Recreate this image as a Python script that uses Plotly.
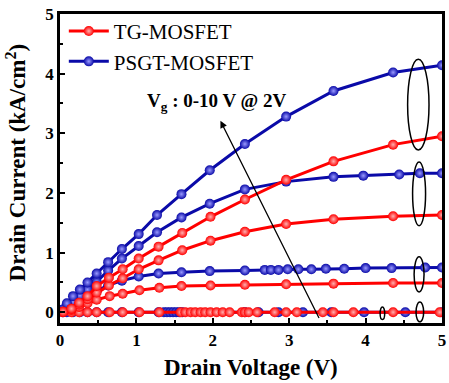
import plotly.graph_objects as go

# ---------------- data ----------------
tg_x_10 = [0.04, 0.15, 0.25, 0.36, 0.48, 0.64, 0.82, 1.03, 1.29, 1.60, 1.97, 2.42, 2.96, 3.58, 4.36, 5.0]
tg_y_10 = [0.01, 0.06, 0.16, 0.27, 0.44, 0.58, 0.72, 0.90, 1.10, 1.33, 1.60, 1.89, 2.22, 2.53, 2.81, 2.95]
tg_x_8 = [0.04, 0.15, 0.25, 0.36, 0.48, 0.64, 0.82, 1.03, 1.29, 1.60, 1.97, 2.42, 2.96, 3.58, 4.36, 5.0]
tg_y_8 = [0.01, 0.06, 0.13, 0.22, 0.33, 0.45, 0.57, 0.72, 0.87, 1.04, 1.20, 1.35, 1.48, 1.56, 1.61, 1.63]
tg_x_6 = [0.04, 0.15, 0.25, 0.36, 0.48, 0.65, 0.82, 1.04, 1.30, 1.59, 1.97, 2.42, 2.96, 3.58, 4.36, 5.0]
tg_y_6 = [0.01, 0.04, 0.09, 0.15, 0.21, 0.27, 0.31, 0.37, 0.41, 0.44, 0.45, 0.46, 0.47, 0.48, 0.49, 0.49]
tg_x_0 = [0.04, 0.15, 0.25, 0.36, 0.48, 0.65, 0.82, 1.04, 1.30, 1.58, 1.64, 1.71, 1.77, 1.84, 1.90,
          1.97, 2.05, 2.13, 2.22, 2.38, 2.42, 2.47, 2.58, 2.81, 2.96, 3.10, 3.44, 3.58, 3.84, 4.36, 4.97]
tg_y_0 = [0.0] * len(tg_x_0)

psgt_x_10 = [0.04, 0.09, 0.17, 0.26, 0.36, 0.48, 0.63, 0.81, 1.03, 1.27, 1.59, 1.96, 2.42, 2.96, 3.58, 4.36, 5.0]
psgt_y_10 = [0.05, 0.15, 0.27, 0.38, 0.50, 0.65, 0.84, 1.06, 1.31, 1.63, 1.98, 2.38, 2.82, 3.28, 3.71, 4.02, 4.14]
psgt_x_8 = [0.04, 0.09, 0.17, 0.26, 0.36, 0.48, 0.63, 0.81, 1.03, 1.27, 1.59, 1.96, 2.42, 2.96, 3.58, 3.97, 4.44, 4.71, 5.0]
psgt_y_8 = [0.03, 0.09, 0.18, 0.28, 0.38, 0.51, 0.70, 0.90, 1.11, 1.34, 1.59, 1.82, 2.06, 2.19, 2.27, 2.29, 2.31, 2.33, 2.33]
psgt_x_6 = [0.04, 0.09, 0.17, 0.26, 0.36, 0.48, 0.63, 0.81, 1.03, 1.29, 1.59, 1.96, 2.42, 2.68, 2.76, 2.86,
            2.98, 3.12, 3.29, 3.48, 3.72, 4.0, 4.34, 4.78, 5.0]
psgt_y_6 = [0.02, 0.07, 0.14, 0.21, 0.28, 0.36, 0.45, 0.53, 0.60, 0.65, 0.67, 0.69, 0.70, 0.71, 0.71, 0.71,
            0.72, 0.72, 0.72, 0.73, 0.73, 0.74, 0.74, 0.75, 0.75]
psgt_x_0 = [0.04, 0.09, 0.17, 0.26, 0.36, 0.48, 0.63, 0.81, 1.03, 1.29, 1.36, 1.40, 1.44, 1.48, 1.52, 1.56,
            1.60, 2.42, 2.60, 2.86, 3.18, 3.55, 3.98, 4.52, 5.0]
psgt_y_0 = [0.0] * len(psgt_x_0)

tg_curves = [(tg_x_0, tg_y_0), (tg_x_6, tg_y_6), (tg_x_8, tg_y_8), (tg_x_10, tg_y_10)]
psgt_curves = [(psgt_x_0, psgt_y_0), (psgt_x_6, psgt_y_6), (psgt_x_8, psgt_y_8), (psgt_x_10, psgt_y_10)]

series_names = ["TG-MOSFET", "PSGT-MOSFET"]
x_ticks = [0, 1, 2, 3, 4, 5]
y_ticks = [0, 1, 2, 3, 4, 5]

# ellipses (x0, x1, y0, y1) in data units
ellipses = [
    (4.55, 4.83, 2.72, 4.24),
    (4.615, 4.785, 1.45, 2.52),
    (4.635, 4.765, 0.34, 0.93),
    (4.66, 4.76, -0.16, 0.17),
    (4.19, 4.25, -0.12, 0.09),
]
arrow_tail = (3.40, -0.12)
arrow_head = (2.10, 3.21)
label_pos = (2.06, 3.52)

# ---------------- styles ----------------
RED = "#ff0000"
BLUE = "#0a0aa8"
FONT = "Liberation Serif"

fig = go.Figure()


def add_curves(curves, name, color, light, rank):
    for i, (xs, ys) in enumerate(curves):
        fig.add_trace(go.Scatter(
            x=xs, y=ys, mode="lines+markers", name=name,
            legendgroup=name, showlegend=(i == 0), legendrank=rank,
            line=dict(color=color, width=3),
            marker=dict(size=10, color=color, symbol="circle",
                        gradient=dict(type="radial", color=light),
                        line=dict(width=0)),
        ))


add_curves(psgt_curves, series_names[1], BLUE, "#9a9aff", 2)
add_curves(tg_curves, series_names[0], RED, "#ffb0b0", 1)

for (x0, x1, y0, y1) in ellipses:
    fig.add_shape(type="circle", xref="x", yref="y", x0=x0, x1=x1, y0=y0, y1=y1,
                  line=dict(color="black", width=1.5))

fig.add_annotation(x=arrow_head[0], y=arrow_head[1], ax=arrow_tail[0], ay=arrow_tail[1],
                   xref="x", yref="y", axref="x", ayref="y", text="", showarrow=True,
                   arrowhead=2, arrowsize=1.1, arrowwidth=1.3, arrowcolor="black")

fig.add_annotation(x=label_pos[0], y=label_pos[1], xref="x", yref="y", showarrow=False,
                   text="V<sub>g</sub> : 0-10 V @ 2V",
                   font=dict(family=FONT, size=19, color="black", weight="bold"))

fig.add_annotation(x=0.5, y=-0.145, xref="paper", yref="paper", showarrow=False,
                   text="Drain Voltage (V)", yanchor="middle",
                   font=dict(family=FONT, size=23, color="black", weight="bold"))
fig.add_annotation(x=-0.115, y=0.52, xref="paper", yref="paper", showarrow=False,
                   text="Drain Current (kA/cm<sup>2</sup>)", textangle=-90, xanchor="center",
                   font=dict(family=FONT, size=23, color="black", weight="bold"))

axis_common = dict(
    showgrid=False, zeroline=False, showline=True, linecolor="black", linewidth=2.5,
    mirror=True, ticks="inside", ticklen=5, tickwidth=1.5, tickcolor="black",
    tickfont=dict(family=FONT, size=17, color="black", weight="bold"),
    minor=dict(ticks="inside", ticklen=3, tickwidth=1.5, tickcolor="black", dtick=0.5),
)

fig.update_layout(
    width=449, height=383,
    margin=dict(l=60, r=4, t=14, b=60),
    paper_bgcolor="white", plot_bgcolor="white",
    xaxis=dict(range=[0, 5], tickvals=x_ticks, **axis_common),
    yaxis=dict(range=[-0.18, 5], tickvals=y_ticks, **axis_common),
    legend=dict(x=0.01, y=1.01, xanchor="left", yanchor="top", bgcolor="rgba(0,0,0,0)",
                font=dict(family=FONT, size=21, color="black"), tracegroupgap=0,
                itemwidth=40),
)

fig.write_html("out.html")
